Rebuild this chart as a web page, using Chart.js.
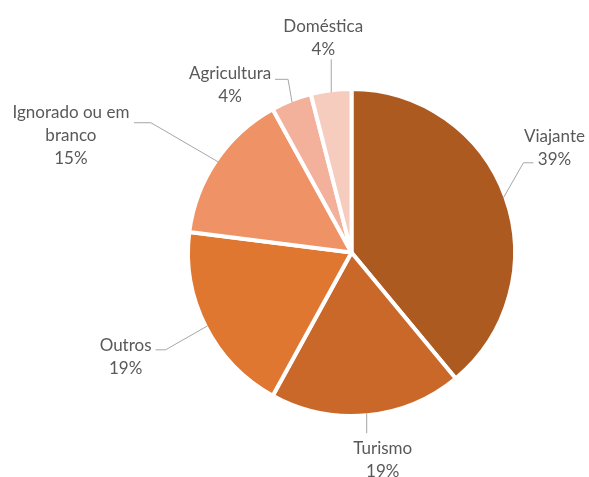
<!DOCTYPE html>
<html>
<head>
<meta charset="utf-8">
<script src="https://cdn.jsdelivr.net/npm/chart.js@4.4.1/dist/chart.umd.min.js"></script>
<style>
  html, body { margin: 0; padding: 0; background: #ffffff; }
  #wrap { width: 589px; height: 477px; }
</style>
</head>
<body>
<div id="wrap"><canvas id="pie" width="589" height="477"></canvas></div>
<script>
// Categories and their share (%)
const categories = ['Viajante', 'Turismo', 'Outros', 'Ignorado ou em branco', 'Agricultura', 'Doméstica'];
const shares = [39, 19, 19, 15, 4, 4];
const sliceColors = ['#AD5A21', '#C96829', '#E07731', '#EF9265', '#F3B19B', '#F6CCBF'];

// Label placement: text block (first line centre) and leader bend points,
// all relative to the point where the leader meets the slice edge.
const labelLayout = [
  { tx: 51,   ty: -61, path: [[20, -35], [30, -35]] },
  { tx: 16,   ty: 35,  path: [[0, 20]] },
  { tx: -82,  ty: 20,  path: [[-42, 24], [-52, 24]] },
  { tx: -147, ty: -49, path: [[-67, -39], [-84, -39]] },
  { tx: -62,  ty: -29, path: [[-4, -23], [-17, -23]] },
  { tx: -8,   ty: -66, path: [[0, -33]] }
];

const FONT = '17px Lato, "Open Sans", sans-serif';
const LINE_H = 23;
const WRAP_W = 130;

function wrapText(ctx, text, maxW) {
  const words = text.split(' ');
  const lines = [];
  let cur = '';
  for (const w of words) {
    const test = cur ? cur + ' ' + w : w;
    if (ctx.measureText(test).width > maxW && cur) {
      lines.push(cur);
      cur = w;
    } else {
      cur = test;
    }
  }
  if (cur) lines.push(cur);
  return lines;
}

const calloutLabels = {
  id: 'calloutLabels',
  afterDatasetsDraw(chart) {
    const ctx = chart.ctx;
    const meta = chart.getDatasetMeta(0);
    const data = chart.data.datasets[0].data;
    ctx.save();
    ctx.font = FONT;
    meta.data.forEach((arc, i) => {
      const p = arc.getProps(['x', 'y', 'startAngle', 'endAngle', 'outerRadius'], true);
      const mid = (p.startAngle + p.endAngle) / 2;
      const r = p.outerRadius - 2;
      const ex = p.x + Math.cos(mid) * r;
      const ey = p.y + Math.sin(mid) * r;
      const lay = labelLayout[i];

      // leader line
      ctx.strokeStyle = '#A6A6A6';
      ctx.lineWidth = 1;
      ctx.beginPath();
      ctx.moveTo(ex, ey);
      lay.path.forEach(([dx, dy]) => ctx.lineTo(ex + dx, ey + dy));
      ctx.stroke();

      // label text
      const lines = wrapText(ctx, chart.data.labels[i], WRAP_W);
      lines.push(data[i] + '%');
      ctx.fillStyle = '#595959';
      ctx.textAlign = 'center';
      ctx.textBaseline = 'middle';
      lines.forEach((ln, k) => {
        ctx.fillText(ln, ex + lay.tx, ey + lay.ty + k * LINE_H);
      });
    });
    ctx.restore();
  }
};

new Chart(document.getElementById('pie'), {
  type: 'pie',
  data: {
    labels: categories,
    datasets: [{
      data: shares,
      backgroundColor: sliceColors,
      borderColor: '#FFFFFF',
      borderWidth: 4,
      hoverOffset: 0,
      radius: 163.5
    }]
  },
  options: {
    responsive: false,
    animation: false,
    layout: { padding: { left: 121, right: 7, top: 31, bottom: 3 } },
    plugins: {
      legend: { display: false },
      tooltip: { enabled: false }
    }
  },
  plugins: [calloutLabels]
});
</script>
</body>
</html>
